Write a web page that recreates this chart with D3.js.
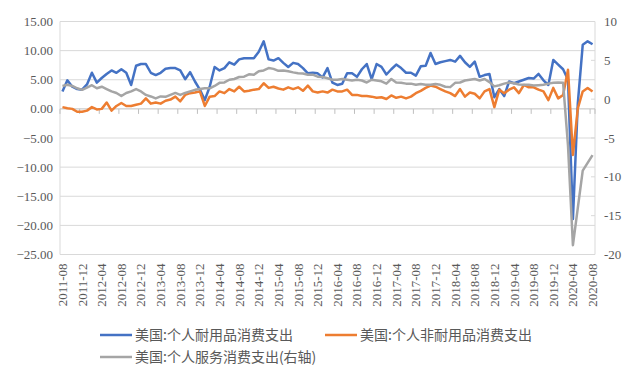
<!DOCTYPE html>
<html>
<head>
<meta charset="utf-8">
<script src="https://cdn.jsdelivr.net/npm/d3@7"></script>
<style>
  body { margin: 0; background: #fff; }
  svg { display: block; }
</style>
</head>
<body>
<svg id="chart" width="641" height="374"></svg>
<script>
// monthly categories 2011-08 .. 2020-08
const months = d3.utcMonths(new Date(Date.UTC(2011, 7, 1)), new Date(Date.UTC(2020, 8, 1)))
    .map(d3.utcFormat("%Y-%m"));

// 美国:个人耐用品消费支出 (left axis)
const durable = [
    3.0, 4.9, 3.8, 3.4, 3.3, 4.2, 6.2, 4.5, 5.3, 6.0, 6.6, 6.2, 6.8, 6.2, 4.1, 7.4,
    7.7, 7.7, 6.2, 5.8, 6.2, 6.9, 7.0, 7.0, 6.6, 5.1, 6.3, 4.7, 3.3, 1.5, 3.8, 7.2,
    6.6, 7.0, 8.0, 7.6, 8.5, 8.7, 8.7, 8.7, 9.8, 11.6, 8.5, 8.3, 8.7, 7.9, 7.2, 7.9,
    7.7, 7.0, 6.1, 6.2, 6.1, 5.4, 7.0, 4.5, 4.1, 4.3, 6.1, 6.1, 5.5, 6.8, 7.7, 5.1,
    7.7, 7.2, 5.9, 6.8, 7.6, 7.0, 6.2, 6.2, 5.7, 7.3, 7.4, 9.6, 7.7, 8.0, 8.2, 8.4,
    8.1, 9.1, 8.0, 7.2, 8.1, 5.5, 5.8, 6.0, 2.0, 3.4, 2.2, 4.7, 4.4, 4.7, 5.0, 5.3,
    5.2, 6.0, 4.9, 4.1, 8.4, 7.6, 6.8, 5.0, -18.9, 1.0, 11.0, 11.6, 11.1
];

// 美国:个人非耐用品消费支出 (left axis)
const nondurable = [
    0.3, 0.1, 0.0, -0.5, -0.5, -0.3, 0.3, -0.1, 0.0, 1.1, -0.3, 0.5, 1.0, 0.5, 0.5, 0.7,
    0.9, 1.8, 0.9, 1.1, 0.9, 1.4, 1.6, 2.1, 1.3, 2.4, 2.7, 2.8, 3.0, 0.5, 2.1, 2.2,
    3.0, 2.7, 3.4, 3.0, 3.8, 3.0, 3.1, 3.3, 3.4, 4.4, 3.6, 3.8, 3.5, 3.3, 3.7, 3.4,
    3.7, 3.1, 4.0, 3.0, 2.8, 3.0, 2.8, 3.3, 3.0, 3.0, 3.3, 2.4, 2.4, 2.2, 2.2, 2.1,
    1.9, 2.0, 1.7, 2.3, 1.9, 2.1, 1.8, 2.1, 2.7, 3.1, 3.6, 4.0, 3.8, 3.4, 3.0, 2.7,
    2.2, 3.4, 2.1, 2.8, 2.6, 1.8, 3.0, 3.4, 0.3, 3.3, 2.7, 3.3, 3.7, 2.7, 4.1, 3.7,
    3.7, 3.3, 3.0, 1.5, 3.6, 1.8, 2.4, 6.7, -7.9, 0.1, 3.0, 3.6, 3.0
];

// 美国:个人服务消费支出 (right axis)
const services = [
    1.7, 1.85, 1.7, 1.4, 1.2, 1.5, 1.8, 1.4, 1.6, 1.3, 1.0, 0.8, 0.4, 0.8, 1.0, 1.3,
    1.0, 0.55, 0.35, 0.1, 0.35, 0.3, 0.55, 0.8, 0.55, 0.8, 1.0, 1.2, 1.3, 1.4, 1.4, 1.7,
    2.1, 2.15, 2.5, 2.6, 2.85, 2.9, 3.2, 3.15, 3.6, 3.7, 4.0, 3.9, 3.65, 3.7, 3.6, 3.45,
    3.35, 3.3, 3.15, 3.15, 2.9, 2.85, 2.7, 2.5, 2.5, 2.6, 2.5, 2.4, 2.5, 2.4, 2.15, 2.5,
    2.4, 2.3, 2.0, 2.6, 2.15, 2.1, 2.0, 2.0, 1.85, 1.95, 1.85, 1.85, 1.95, 1.85, 1.6, 1.55,
    2.1, 2.15, 2.4, 2.5, 2.6, 2.4, 2.6, 2.2, 1.65, 1.8, 2.0, 2.15, 2.05, 1.9, 1.85, 1.85,
    1.75, 1.8, 1.85, 2.0, 2.1, 2.15, 2.1, -6.0, -18.8, -14.0, -9.2, -8.2, -7.2
];

const leftTicks = [15, 10, 5, 0, -5, -10, -15, -20, -25];
const rightTicks = [10, 5, 0, -5, -10, -15, -20];

const series = [
    {name: "美国:个人耐用品消费支出", values: durable, color: "#4472C4", axis: "left"},
    {name: "美国:个人非耐用品消费支出", values: nondurable, color: "#ED7D31", axis: "left"},
    {name: "美国:个人服务消费支出(右轴)", values: services, color: "#A5A5A5", axis: "right"}
];

const svg = d3.select("#chart");
const plot = {left: 60, right: 595, top: 21.5, bottom: 254.5};
const numFont = "'Liberation Serif', 'Times New Roman', serif";
const cjkFont = "'Noto Sans CJK SC', sans-serif";
const textColor = "#595959";

const x = d3.scaleBand().domain(months).range([plot.left, plot.right]);
const yL = d3.scaleLinear().domain([-25, 15]).range([plot.bottom, plot.top]);
const yR = d3.scaleLinear().domain([-20, 10]).range([plot.bottom, plot.top]);
const cx = m => x(m) + x.bandwidth() / 2;

// gridlines
svg.append("g").selectAll("line")
    .data(leftTicks.filter(v => v !== 0))
    .enter().append("line")
    .attr("x1", plot.left).attr("x2", plot.right)
    .attr("y1", d => yL(d)).attr("y2", d => yL(d))
    .attr("stroke", "#d9d9d9").attr("stroke-width", 1);

// plot border sides
svg.append("line").attr("x1", plot.left).attr("x2", plot.left)
    .attr("y1", plot.top).attr("y2", plot.bottom).attr("stroke", "#d9d9d9");
svg.append("line").attr("x1", plot.right).attr("x2", plot.right)
    .attr("y1", plot.top).attr("y2", plot.bottom).attr("stroke", "#d9d9d9");

// right axis ticks (inside)
svg.append("g").selectAll("line")
    .data(rightTicks)
    .enter().append("line")
    .attr("x1", plot.right - 4).attr("x2", plot.right)
    .attr("y1", d => yR(d)).attr("y2", d => yR(d))
    .attr("stroke", "#d9d9d9");

// category axis at zero
const zeroY = yL(0);
svg.append("line").attr("x1", plot.left).attr("x2", plot.right)
    .attr("y1", zeroY).attr("y2", zeroY)
    .attr("stroke", "#bfbfbf").attr("stroke-width", 1);
svg.append("g").selectAll("line")
    .data(months.filter((m, i) => i % 4 === 0).concat([null]))
    .enter().append("line")
    .attr("x1", d => d ? x(d) : plot.right).attr("x2", d => d ? x(d) : plot.right)
    .attr("y1", zeroY).attr("y2", zeroY + 5)
    .attr("stroke", "#bfbfbf");

// left axis labels
svg.append("g").selectAll("text")
    .data(leftTicks)
    .enter().append("text")
    .attr("x", 53).attr("y", d => yL(d)).attr("dy", "0.35em")
    .attr("text-anchor", "end")
    .style("font-family", numFont).style("font-size", "13px").attr("fill", textColor)
    .text(d => d3.format(".2f")(d));

// right axis labels
svg.append("g").selectAll("text")
    .data(rightTicks)
    .enter().append("text")
    .attr("x", 604).attr("y", d => yR(d)).attr("dy", "0.35em")
    .attr("text-anchor", "start")
    .style("font-family", numFont).style("font-size", "13px").attr("fill", textColor)
    .text(d => d);

// x labels rotated
svg.append("g").selectAll("text")
    .data(months.filter((m, i) => i % 4 === 0))
    .enter().append("text")
    .attr("transform", d => `translate(${cx(d) + 4.5},${plot.bottom + 9}) rotate(-90)`)
    .attr("text-anchor", "end")
    .style("font-family", numFont).style("font-size", "13px").attr("fill", textColor)
    .text(d => d);

// lines
series.forEach(s => {
    const y = s.axis === "left" ? yL : yR;
    const line = d3.line()
        .x((d, i) => cx(months[i]))
        .y(d => y(d));
    svg.append("path")
        .datum(s.values)
        .attr("fill", "none")
        .attr("stroke", s.color)
        .attr("stroke-width", 2.5)
        .attr("stroke-linejoin", "round")
        .attr("d", line);
});

// legend
const legendPos = [[100, 335], [325, 335], [100, 357]];
const legend = svg.append("g").selectAll("g")
    .data(series)
    .enter().append("g")
    .attr("transform", (d, i) => `translate(${legendPos[i][0]},${legendPos[i][1]})`);
legend.append("line")
    .attr("x1", 0).attr("x2", 32).attr("y1", 0).attr("y2", 0)
    .attr("stroke", d => d.color).attr("stroke-width", 2.5);
legend.append("text")
    .attr("x", 35).attr("dy", "0.35em")
    .style("font-family", cjkFont).style("font-size", "14px").attr("fill", textColor)
    .text(d => d.name);
</script>
</body>
</html>
